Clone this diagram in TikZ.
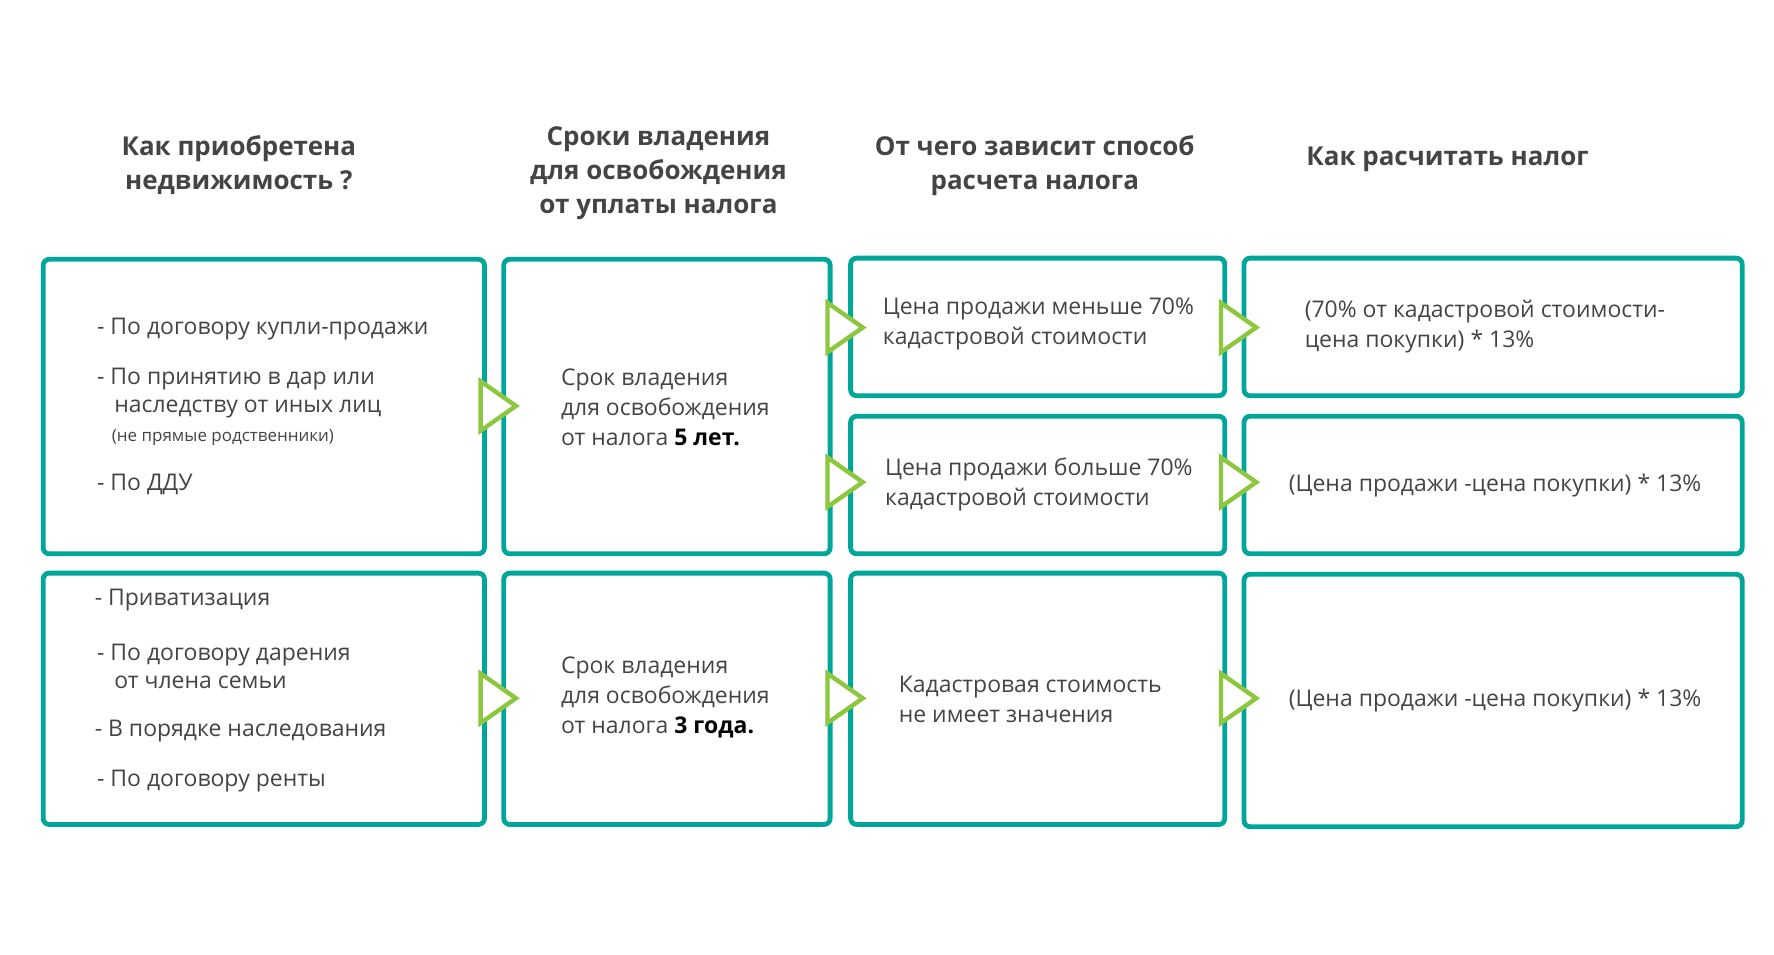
\documentclass[tikz,border=0pt]{standalone}
\usepackage{fontspec}
\setmainfont{Open Sans}
\usetikzlibrary{shapes.geometric}
\definecolor{teal1}{RGB}{0,166,153}
\definecolor{lime1}{RGB}{141,198,63}
\definecolor{txt}{RGB}{68,68,68}
\begin{document}
\begin{tikzpicture}[x=0.02cm, y=-0.02cm, font=\fontsize{11.5}{15}\selectfont, text=txt,
  box/.style={draw=teal1, line width=2.4pt, rounded corners=3pt},
  head/.style={align=center, font=\fontsize{13}{17}\selectfont\bfseries},
  item/.style={align=left, anchor=west, inner sep=0pt},
  tri/.style={isosceles triangle, draw=lime1, line width=2.2pt, fill=white,
    minimum height=0.62cm, minimum width=0.74cm, isosceles triangle apex angle=70, inner sep=0pt}]
\useasboundingbox (0,0) rectangle (1560,839);

% headers
\node[head] (h1) at (210,145) {Как приобретена\\недвижимость ?};
\node[head] (h2) at (579,152) {Сроки владения\\для освобождения\\от уплаты налога};
\node[head] (h3) at (910,146) {От чего зависит способ\\расчета налога};
\node[head] (h4) at (1273,140) {Как расчитать налог};

% boxes
\draw[box] (38,228) rectangle (426,487);
\draw[box] (443,228) rectangle (730,487);
\draw[box] (748,227) rectangle (1077,348);
\draw[box] (748,366) rectangle (1077,487);
\draw[box] (1094,227) rectangle (1532,348);
\draw[box] (1094,366) rectangle (1532,487);
\draw[box] (38,504) rectangle (426,725);
\draw[box] (443,504) rectangle (730,725);
\draw[box] (748,504) rectangle (1077,725);
\draw[box] (1094,505) rectangle (1532,727);

% texts, first row
\node[item] (t1a) at (85,289) {- По договору купли-продажи};
\node[item] (t1b) at (85,346) {- По принятию в дар или\\[-1pt]\hspace*{0.75em}наследству от иных лиц};
\node[item, font=\fontsize{8.5}{10}\selectfont] (t1c) at (98,385) {(не прямые родственники)};
\node[item] (t1d) at (85,426) {- По ДДУ};
\node[item] (t2) at (493,358) {Срок владения\\для освобождения\\от налога \textcolor{black}{\bfseries 5 лет.}};
\node[item] (t3a) at (776,285) {Цена продажи меньше 70\%\\кадастровой стоимости};
\node[item] (t3b) at (778,426) {Цена продажи больше 70\%\\кадастровой стоимости};
\node[item] (t4a) at (1147,287) {(70\% от кадастровой стоимости-\\цена покупки) * 13\%};
\node[item] (t4b) at (1133,427) {(Цена продажи -цена покупки) * 13\%};

% texts, second row
\node[item] (t5a) at (83,528) {- Приватизация};
\node[item] (t5b) at (85,586) {- По договору дарения\\[-1pt]\hspace*{0.75em}от члена семьи};
\node[item] (t5c) at (83,643) {- В порядке наследования};
\node[item] (t5d) at (85,687) {- По договору ренты};
\node[item] (t6) at (493,613) {Срок владения\\для освобождения\\от налога \textcolor{black}{\bfseries 3 года.}};
\node[item] (t7) at (790,615) {Кадастровая стоимость\\не имеет значения};
\node[item] (t8) at (1133,616) {(Цена продажи -цена покупки) * 13\%};

% triangles
\foreach \x/\y in {434/357, 434/614, 739/288, 739/424, 739/614, 1085/288, 1085/424, 1085/614}
  \node[tri] at (\x,\y) {};
\end{tikzpicture}
\end{document}
